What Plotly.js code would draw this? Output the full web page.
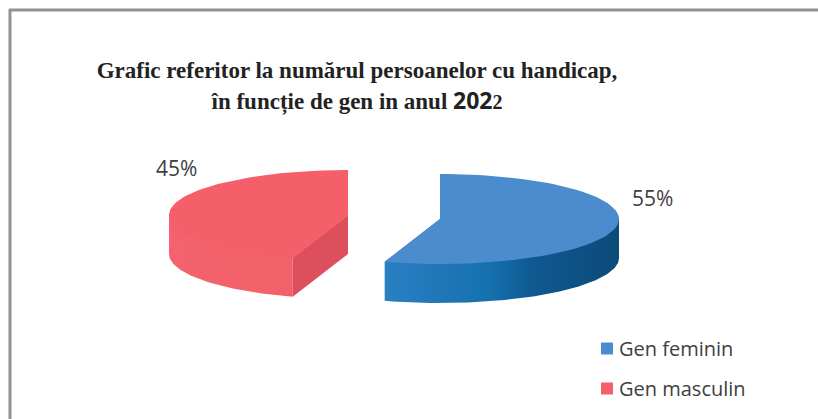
<!DOCTYPE html>
<html><head><meta charset="utf-8">
<script src="https://cdn.plot.ly/plotly-3.0.1.min.js"></script>
<style>html,body{margin:0;padding:0;background:#fff}</style></head>
<body><div id="chart" style="width:818px;height:419px"></div>
<script>
const categories = ['Gen feminin', 'Gen masculin'];
const shares = [55, 45];
const topColors = ['#4a8ccd', '#f55f69'];
const cutColors = ['#1f78bd', '#dd4f5c'];
const sideScales = [
  [[0,'#2b7fc3'],[0.45,'#1670ae'],[0.62,'#0f5a92'],[1,'#0c4a78']],
  [[0,'#f4636d'],[1,'#f25f69']]
];
const centers = [[440,219],[348,215]];
const RX = 179, RY = 45, DEPTH = 39;

const pt = (c,a,d=0)=>[c[0]+RX*Math.sin(a), c[1]-RY*Math.cos(a)+d];
function arc(c,a0,a1,d=0){const out=[];const n=80;for(let i=0;i<=n;i++)out.push(pt(c,a0+(a1-a0)*i/n,d));return out;}
function poly(points,o){return Object.assign({x:points.map(p=>p[0]),y:points.map(p=>p[1]),mode:'lines',fill:'toself',line:{width:0},hoverinfo:'skip',showlegend:false,type:'scatter'},o);}

const traces=[]; let start=0; const total=shares.reduce((a,b)=>a+b,0);
shares.forEach((v,i)=>{
  const a0=start/total*2*Math.PI, a1=(start+v)/total*2*Math.PI; start+=v;
  const c=centers[i];
  // visible outer wall; it runs in under the top face so no seam shows
  const w0=Math.max(a0,Math.PI/2), w1=Math.min(a1,3*Math.PI/2);
  if(w1>w0){
    const wall=[c,pt(c,w0)].concat(arc(c,w0,w1,DEPTH),[pt(c,w1),c]);
    traces.push(poly(wall,{fillgradient:{type:'horizontal',colorscale:sideScales[i]},fillcolor:topColors[i]}));
  }
  if(i===1){ // radial cut face seen on the second slice
    const e=pt(c,a0);
    traces.push(poly([c,e,[e[0],e[1]+DEPTH],[c[0],c[1]+DEPTH],c],{fillcolor:cutColors[i]}));
  }
  traces.push(poly([c].concat(arc(c,a0,a1),[c]),{fillcolor:topColors[i]}));
});
categories.forEach((n,i)=>traces.push({x:[null],y:[null],type:'scatter',mode:'markers',name:n,legendgroup:n,
  marker:{symbol:'square',size:12,color:topColors[i]},hoverinfo:'skip'}));

const labelPos=[[652,198],[176,168]];
const annotations=shares.map((v,i)=>({x:labelPos[i][0],y:labelPos[i][1],xref:'x',yref:'y',text:v+'%',showarrow:false,
  font:{family:'Open Sans',size:21,color:'#404040'}}));

const sp='font-size:23px';
const layout={
  width:818,height:419,margin:{l:0,r:0,t:0,b:0},paper_bgcolor:'#fff',plot_bgcolor:'#fff',
  title:{text:`<b><span style="${sp}">Grafic referitor la numărul persoanelor cu handicap,</span></b><br><b><span style="${sp}">în funcție de gen in anul <span style="font-family:'Open Sans';font-size:23px">202</span><span style="font-size:20px">2</span></span></b>`,
    font:{family:'Liberation Serif',size:24,color:'#222'},x:357/818,xanchor:'center',y:1-78/419,yanchor:'top',yref:'container'},
  xaxis:{range:[0,818],visible:false,fixedrange:true},
  yaxis:{range:[419,0],visible:false,fixedrange:true},
  showlegend:true,
  legend:{x:579/818,y:1-329/419,xanchor:'left',yanchor:'top',bgcolor:'rgba(0,0,0,0)',tracegroupgap:11,itemwidth:30,
    font:{family:'Open Sans',size:20,color:'#404040'}},
  annotations,
  shapes:[
    {type:'line',xref:'x',yref:'y',x0:9,y0:10,x1:818,y1:10,line:{color:'#929292',width:3}},
    {type:'line',xref:'x',yref:'y',x0:10,y0:9,x1:10,y1:419,line:{color:'#929292',width:3}}
  ]
};
Plotly.newPlot('chart',traces,layout,{displayModeBar:false,staticPlot:true}).then(()=>{
  // move the legend swatches close to their labels, as in the reference
  document.querySelectorAll('.legend .legendpoints .scatterpts').forEach(g=>g.setAttribute('transform','translate(28,0)'));
});
</script></body></html>
